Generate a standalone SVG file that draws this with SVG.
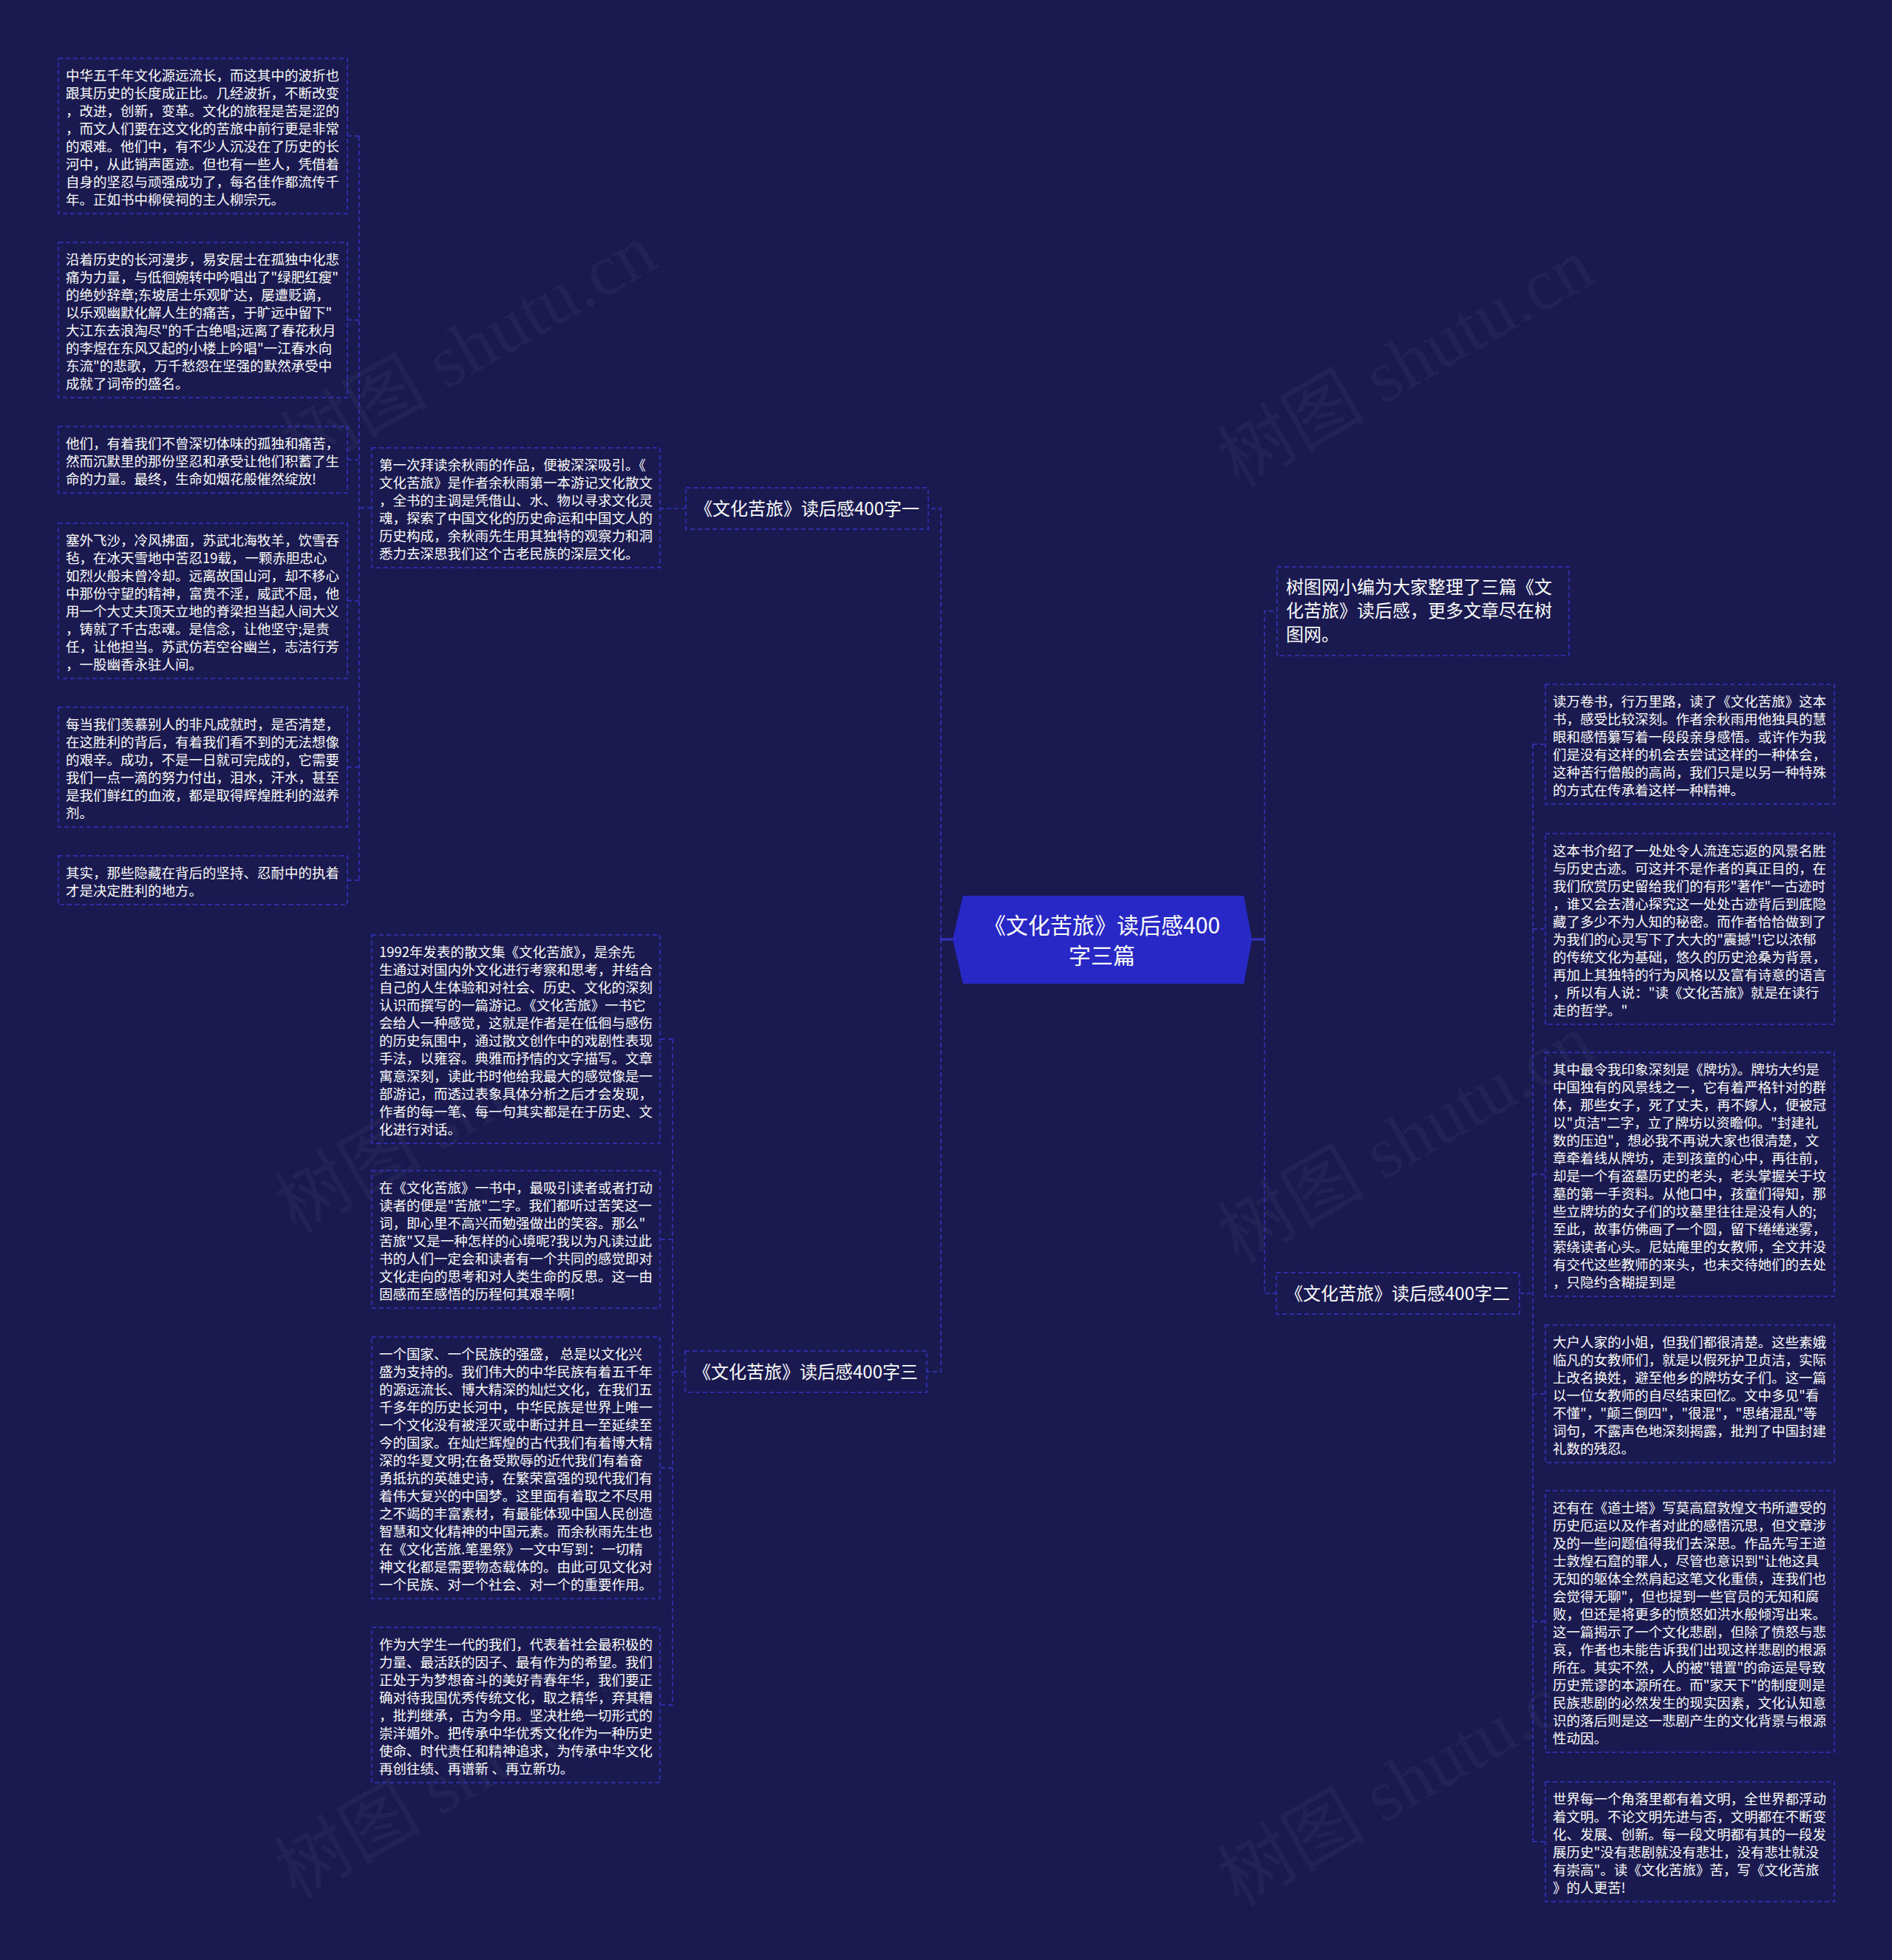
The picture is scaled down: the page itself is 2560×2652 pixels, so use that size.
<svg xmlns="http://www.w3.org/2000/svg" width="2560" height="2652" viewBox="0 0 2560 2652">
<style>
.bg{fill:#1a1950}
.box{fill:none;stroke:#3434c4;stroke-width:1.5;stroke-dasharray:6 4}
.ln{fill:none;stroke:#3434c4;stroke-width:1.5;stroke-dasharray:6 4}
.stub{fill:none;stroke:#3434c4;stroke-width:3}
.t{font-family:"Noto Sans CJK SC","Noto Sans",sans-serif;font-size:18.5px;fill:#ffffff}
.tb{font-family:"Noto Sans CJK SC","Noto Sans",sans-serif;font-size:24px;fill:#ffffff}
.tc{font-family:"Noto Sans CJK SC","Noto Sans",sans-serif;font-size:30px;fill:#ffffff;text-anchor:middle}
.wm{font-family:"Liberation Serif","Noto Sans CJK SC",serif;font-size:100px;fill:#ffffff;fill-opacity:0.045;text-anchor:middle}
</style>
<rect class="bg" x="0" y="0" width="2560" height="2652"/>
<g id="watermarks">
<text class="wm" transform="translate(651,500) rotate(-30)">树图 shutu.cn</text>
<text class="wm" transform="translate(1919,520) rotate(-30)">树图 shutu.cn</text>
<text class="wm" transform="translate(643,1530) rotate(-30)">树图 shutu.cn</text>
<text class="wm" transform="translate(1919,1570) rotate(-30)">树图 shutu.cn</text>
<text class="wm" transform="translate(643,2430) rotate(-30)">树图 shutu.cn</text>
<text class="wm" transform="translate(1919,2440) rotate(-30)">树图 shutu.cn</text>
</g>
<g id="connectors">
<path class="stub" d="M1289 1271 H1273"/>
<path class="stub" d="M1694 1271 H1711"/>
<path class="ln" d="M1273 1271 V688 H1256"/>
<path class="ln" d="M1273 1271 V1856 H1254"/>
<path class="ln" d="M928 688 H893"/>
<path class="ln" d="M503 687 H486"/>
<path class="ln" d="M486 184 V1191"/>
<path class="ln" d="M486 184 H470 M486 433 H470 M486 622 H470 M486 813 H470 M486 1038 H470 M486 1191 H470"/>
<path class="ln" d="M927 1856 H910"/>
<path class="ln" d="M910 1406 V2307"/>
<path class="ln" d="M910 1406 H893 M910 1677 H893 M910 1986 H893 M910 2307 H893"/>
<path class="ln" d="M1711 1271 V827 H1728"/>
<path class="ln" d="M1711 1271 V1750 H1727"/>
<path class="ln" d="M2056 1750 H2074"/>
<path class="ln" d="M2074 1007 V2492"/>
<path class="ln" d="M2074 1007 H2091 M2074 1257 H2091 M2074 1589 H2091 M2074 1886 H2091 M2074 2194 H2091 M2074 2492 H2091"/>
</g>
<g id="root">
<polygon points="1289,1271 1303,1212 1683,1212 1694,1271 1683,1331 1303,1331" fill="#2828c6"/>
<text class="tc"><tspan x="1491" y="1263">《文化苦旅》读后感400</tspan><tspan x="1491" y="1304">字三篇</tspan></text>
</g>
<g id="branch1">
<rect class="box" x="928" y="660" width="328" height="56"/>
<text class="tb" x="1092" y="697" text-anchor="middle">《文化苦旅》读后感400字一</text>
</g>
<g id="branch2">
<rect class="box" x="1727" y="1722" width="329" height="56"/>
<text class="tb" x="1891" y="1759" text-anchor="middle">《文化苦旅》读后感400字二</text>
</g>
<g id="branch3">
<rect class="box" x="927" y="1828" width="327" height="56"/>
<text class="tb" x="1090" y="1865" text-anchor="middle">《文化苦旅》读后感400字三</text>
</g>
<g id="intro">
<rect class="box" x="1728" y="767" width="395" height="120"/>
<text class="tb"><tspan x="1740" y="803">树图网小编为大家整理了三篇《文</tspan><tspan x="1740" dy="32">化苦旅》读后感，更多文章尽在树</tspan><tspan x="1740" dy="32">图网。</tspan></text>
</g>
<g id="m1">
<rect class="box" x="503" y="606" width="390" height="162"/>
<text class="t"><tspan x="513" y="636">第一次拜读余秋雨的作品，便被深深吸引。《</tspan><tspan x="513" dy="24">文化苦旅》是作者余秋雨第一本游记文化散文</tspan><tspan x="513" dy="24">，全书的主调是凭借山、水、物以寻求文化灵</tspan><tspan x="513" dy="24">魂，探索了中国文化的历史命运和中国文人的</tspan><tspan x="513" dy="24">历史构成，余秋雨先生用其独特的观察力和洞</tspan><tspan x="513" dy="24">悉力去深思我们这个古老民族的深层文化。</tspan></text>
</g>
<g id="l1">
<rect class="box" x="79" y="79" width="391" height="210"/>
<text class="t"><tspan x="89" y="109">中华五千年文化源远流长，而这其中的波折也</tspan><tspan x="89" dy="24">跟其历史的长度成正比。几经波折，不断改变</tspan><tspan x="89" dy="24">，改进，创新，变革。文化的旅程是苦是涩的</tspan><tspan x="89" dy="24">，而文人们要在这文化的苦旅中前行更是非常</tspan><tspan x="89" dy="24">的艰难。他们中，有不少人沉没在了历史的长</tspan><tspan x="89" dy="24">河中，从此销声匿迹。但也有一些人，凭借着</tspan><tspan x="89" dy="24">自身的坚忍与顽强成功了，每名佳作都流传千</tspan><tspan x="89" dy="24">年。正如书中柳侯祠的主人柳宗元。</tspan></text>
</g>
<g id="l2">
<rect class="box" x="79" y="328" width="391" height="210"/>
<text class="t"><tspan x="89" y="358">沿着历史的长河漫步，易安居士在孤独中化悲</tspan><tspan x="89" dy="24">痛为力量，与低徊婉转中吟唱出了"绿肥红瘦"</tspan><tspan x="89" dy="24">的绝妙辞章;东坡居士乐观旷达，屡遭贬谪，</tspan><tspan x="89" dy="24">以乐观幽默化解人生的痛苦，于旷远中留下"</tspan><tspan x="89" dy="24">大江东去浪淘尽"的千古绝唱;远离了春花秋月</tspan><tspan x="89" dy="24">的李煜在东风又起的小楼上吟唱"一江春水向</tspan><tspan x="89" dy="24">东流"的悲歌，万千愁怨在坚强的默然承受中</tspan><tspan x="89" dy="24">成就了词帝的盛名。</tspan></text>
</g>
<g id="l3">
<rect class="box" x="79" y="577" width="391" height="90"/>
<text class="t"><tspan x="89" y="607">他们，有着我们不曾深切体味的孤独和痛苦，</tspan><tspan x="89" dy="24">然而沉默里的那份坚忍和承受让他们积蓄了生</tspan><tspan x="89" dy="24">命的力量。最终，生命如烟花般催然绽放!</tspan></text>
</g>
<g id="l4">
<rect class="box" x="79" y="708" width="391" height="210"/>
<text class="t"><tspan x="89" y="738">塞外飞沙，冷风拂面，苏武北海牧羊，饮雪吞</tspan><tspan x="89" dy="24">毡，在冰天雪地中苦忍19载，一颗赤胆忠心</tspan><tspan x="89" dy="24">如烈火般未曾冷却。远离故国山河，却不移心</tspan><tspan x="89" dy="24">中那份守望的精神，富贵不淫，威武不屈，他</tspan><tspan x="89" dy="24">用一个大丈夫顶天立地的脊梁担当起人间大义</tspan><tspan x="89" dy="24">，铸就了千古忠魂。是信念，让他坚守;是责</tspan><tspan x="89" dy="24">任，让他担当。苏武仿若空谷幽兰，志洁行芳</tspan><tspan x="89" dy="24">，一股幽香永驻人间。</tspan></text>
</g>
<g id="l5">
<rect class="box" x="79" y="957" width="391" height="162"/>
<text class="t"><tspan x="89" y="987">每当我们羡慕别人的非凡成就时，是否清楚，</tspan><tspan x="89" dy="24">在这胜利的背后，有着我们看不到的无法想像</tspan><tspan x="89" dy="24">的艰辛。成功，不是一日就可完成的，它需要</tspan><tspan x="89" dy="24">我们一点一滴的努力付出，泪水，汗水，甚至</tspan><tspan x="89" dy="24">是我们鲜红的血液，都是取得辉煌胜利的滋养</tspan><tspan x="89" dy="24">剂。</tspan></text>
</g>
<g id="l6">
<rect class="box" x="79" y="1158" width="391" height="66"/>
<text class="t"><tspan x="89" y="1188">其实，那些隐藏在背后的坚持、忍耐中的执着</tspan><tspan x="89" dy="24">才是决定胜利的地方。</tspan></text>
</g>
<g id="m2">
<rect class="box" x="503" y="1265" width="390" height="282"/>
<text class="t"><tspan x="513" y="1295">1992年发表的散文集《文化苦旅》，是余先</tspan><tspan x="513" dy="24">生通过对国内外文化进行考察和思考，并结合</tspan><tspan x="513" dy="24">自己的人生体验和对社会、历史、文化的深刻</tspan><tspan x="513" dy="24">认识而撰写的一篇游记。《文化苦旅》一书它</tspan><tspan x="513" dy="24">会给人一种感觉，这就是作者是在低徊与感伤</tspan><tspan x="513" dy="24">的历史氛围中，通过散文创作中的戏剧性表现</tspan><tspan x="513" dy="24">手法，以雍容。典雅而抒情的文字描写。文章</tspan><tspan x="513" dy="24">寓意深刻，读此书时他给我最大的感觉像是一</tspan><tspan x="513" dy="24">部游记，而透过表象具体分析之后才会发现，</tspan><tspan x="513" dy="24">作者的每一笔、每一句其实都是在于历史、文</tspan><tspan x="513" dy="24">化进行对话。</tspan></text>
</g>
<g id="m3">
<rect class="box" x="503" y="1584" width="390" height="186"/>
<text class="t"><tspan x="513" y="1614">在《文化苦旅》一书中，最吸引读者或者打动</tspan><tspan x="513" dy="24">读者的便是"苦旅"二字。我们都听过苦笑这一</tspan><tspan x="513" dy="24">词，即心里不高兴而勉强做出的笑容。那么"</tspan><tspan x="513" dy="24">苦旅"又是一种怎样的心境呢?我以为凡读过此</tspan><tspan x="513" dy="24">书的人们一定会和读者有一个共同的感觉即对</tspan><tspan x="513" dy="24">文化走向的思考和对人类生命的反思。这一由</tspan><tspan x="513" dy="24">固感而至感悟的历程何其艰辛啊!</tspan></text>
</g>
<g id="m4">
<rect class="box" x="503" y="1809" width="390" height="354"/>
<text class="t"><tspan x="513" y="1839">一个国家、一个民族的强盛， 总是以文化兴</tspan><tspan x="513" dy="24">盛为支持的。我们伟大的中华民族有着五千年</tspan><tspan x="513" dy="24">的源远流长、博大精深的灿烂文化，在我们五</tspan><tspan x="513" dy="24">千多年的历史长河中，中华民族是世界上唯一</tspan><tspan x="513" dy="24">一个文化没有被淫灭或中断过并且一至延续至</tspan><tspan x="513" dy="24">今的国家。在灿烂辉煌的古代我们有着博大精</tspan><tspan x="513" dy="24">深的华夏文明;在备受欺辱的近代我们有着奋</tspan><tspan x="513" dy="24">勇抵抗的英雄史诗，在繁荣富强的现代我们有</tspan><tspan x="513" dy="24">着伟大复兴的中国梦。这里面有着取之不尽用</tspan><tspan x="513" dy="24">之不竭的丰富素材，有最能体现中国人民创造</tspan><tspan x="513" dy="24">智慧和文化精神的中国元素。而余秋雨先生也</tspan><tspan x="513" dy="24">在《文化苦旅.笔墨祭》一文中写到：一切精</tspan><tspan x="513" dy="24">神文化都是需要物态载体的。由此可见文化对</tspan><tspan x="513" dy="24">一个民族、对一个社会、对一个的重要作用。</tspan></text>
</g>
<g id="m5">
<rect class="box" x="503" y="2202" width="390" height="210"/>
<text class="t"><tspan x="513" y="2232">作为大学生一代的我们，代表着社会最积极的</tspan><tspan x="513" dy="24">力量、最活跃的因子、最有作为的希望。我们</tspan><tspan x="513" dy="24">正处于为梦想奋斗的美好青春年华，我们要正</tspan><tspan x="513" dy="24">确对待我国优秀传统文化，取之精华，弃其糟</tspan><tspan x="513" dy="24">，批判继承，古为今用。坚决杜绝一切形式的</tspan><tspan x="513" dy="24">崇洋媚外。把传承中华优秀文化作为一种历史</tspan><tspan x="513" dy="24">使命、时代责任和精神追求，为传承中华文化</tspan><tspan x="513" dy="24">再创往绩、再谱新 、再立新功。</tspan></text>
</g>
<g id="r1">
<rect class="box" x="2091" y="926" width="391" height="162"/>
<text class="t"><tspan x="2101" y="956">读万卷书，行万里路，读了《文化苦旅》这本</tspan><tspan x="2101" dy="24">书，感受比较深刻。作者余秋雨用他独具的慧</tspan><tspan x="2101" dy="24">眼和感悟纂写着一段段亲身感悟。或许作为我</tspan><tspan x="2101" dy="24">们是没有这样的机会去尝试这样的一种体会，</tspan><tspan x="2101" dy="24">这种苦行僧般的高尚，我们只是以另一种特殊</tspan><tspan x="2101" dy="24">的方式在传承着这样一种精神。</tspan></text>
</g>
<g id="r2">
<rect class="box" x="2091" y="1128" width="391" height="258"/>
<text class="t"><tspan x="2101" y="1158">这本书介绍了一处处令人流连忘返的风景名胜</tspan><tspan x="2101" dy="24">与历史古迹。可这并不是作者的真正目的，在</tspan><tspan x="2101" dy="24">我们欣赏历史留给我们的有形"著作"一古迹时</tspan><tspan x="2101" dy="24">，谁又会去潜心探究这一处处古迹背后到底隐</tspan><tspan x="2101" dy="24">藏了多少不为人知的秘密。而作者恰恰做到了</tspan><tspan x="2101" dy="24">为我们的心灵写下了大大的"震撼"!它以浓郁</tspan><tspan x="2101" dy="24">的传统文化为基础，悠久的历史沧桑为背景，</tspan><tspan x="2101" dy="24">再加上其独特的行为风格以及富有诗意的语言</tspan><tspan x="2101" dy="24">，所以有人说："读《文化苦旅》就是在读行</tspan><tspan x="2101" dy="24">走的哲学。"</tspan></text>
</g>
<g id="r3">
<rect class="box" x="2091" y="1424" width="391" height="330"/>
<text class="t"><tspan x="2101" y="1454">其中最令我印象深刻是《牌坊》。牌坊大约是</tspan><tspan x="2101" dy="24">中国独有的风景线之一，它有着严格针对的群</tspan><tspan x="2101" dy="24">体，那些女子，死了丈夫，再不嫁人，便被冠</tspan><tspan x="2101" dy="24">以"贞洁"二字，立了牌坊以资瞻仰。"封建礼</tspan><tspan x="2101" dy="24">数的压迫"，想必我不再说大家也很清楚，文</tspan><tspan x="2101" dy="24">章牵着线从牌坊，走到孩童的心中，再往前，</tspan><tspan x="2101" dy="24">却是一个有盗墓历史的老头，老头掌握关于坟</tspan><tspan x="2101" dy="24">墓的第一手资料。从他口中，孩童们得知，那</tspan><tspan x="2101" dy="24">些立牌坊的女子们的坟墓里往往是没有人的;</tspan><tspan x="2101" dy="24">至此，故事仿佛画了一个圆，留下绻绻迷雾，</tspan><tspan x="2101" dy="24">萦绕读者心头。尼姑庵里的女教师，全文并没</tspan><tspan x="2101" dy="24">有交代这些教师的来头，也未交待她们的去处</tspan><tspan x="2101" dy="24">，只隐约含糊提到是</tspan></text>
</g>
<g id="r4">
<rect class="box" x="2091" y="1793" width="391" height="186"/>
<text class="t"><tspan x="2101" y="1823">大户人家的小姐，但我们都很清楚。这些素娥</tspan><tspan x="2101" dy="24">临凡的女教师们，就是以假死护卫贞洁，实际</tspan><tspan x="2101" dy="24">上改名换姓，避至他乡的牌坊女子们。这一篇</tspan><tspan x="2101" dy="24">以一位女教师的自尽结束回忆。文中多见"看</tspan><tspan x="2101" dy="24">不懂"，"颠三倒四"，"很混"，"思绪混乱"等</tspan><tspan x="2101" dy="24">词句，不露声色地深刻揭露，批判了中国封建</tspan><tspan x="2101" dy="24">礼数的残忍。</tspan></text>
</g>
<g id="r5">
<rect class="box" x="2091" y="2017" width="391" height="354"/>
<text class="t"><tspan x="2101" y="2047">还有在《道士塔》写莫高窟敦煌文书所遭受的</tspan><tspan x="2101" dy="24">历史厄运以及作者对此的感悟沉思，但文章涉</tspan><tspan x="2101" dy="24">及的一些问题值得我们去深思。作品先写王道</tspan><tspan x="2101" dy="24">士敦煌石窟的罪人，尽管也意识到"让他这具</tspan><tspan x="2101" dy="24">无知的躯体全然肩起这笔文化重债，连我们也</tspan><tspan x="2101" dy="24">会觉得无聊"，但也提到一些官员的无知和腐</tspan><tspan x="2101" dy="24">败，但还是将更多的愤怒如洪水般倾泻出来。</tspan><tspan x="2101" dy="24">这一篇揭示了一个文化悲剧，但除了愤怒与悲</tspan><tspan x="2101" dy="24">哀，作者也未能告诉我们出现这样悲剧的根源</tspan><tspan x="2101" dy="24">所在。其实不然，人的被"错置"的命运是导致</tspan><tspan x="2101" dy="24">历史荒谬的本源所在。而"家天下"的制度则是</tspan><tspan x="2101" dy="24">民族悲剧的必然发生的现实因素，文化认知意</tspan><tspan x="2101" dy="24">识的落后则是这一悲剧产生的文化背景与根源</tspan><tspan x="2101" dy="24">性动因。</tspan></text>
</g>
<g id="r6">
<rect class="box" x="2091" y="2411" width="391" height="162"/>
<text class="t"><tspan x="2101" y="2441">世界每一个角落里都有着文明，全世界都浮动</tspan><tspan x="2101" dy="24">着文明。不论文明先进与否，文明都在不断变</tspan><tspan x="2101" dy="24">化、发展、创新。每一段文明都有其的一段发</tspan><tspan x="2101" dy="24">展历史"没有悲剧就没有悲壮，没有悲壮就没</tspan><tspan x="2101" dy="24">有崇高"。读《文化苦旅》苦，写《文化苦旅</tspan><tspan x="2101" dy="24">》的人更苦!</tspan></text>
</g>
</svg>
